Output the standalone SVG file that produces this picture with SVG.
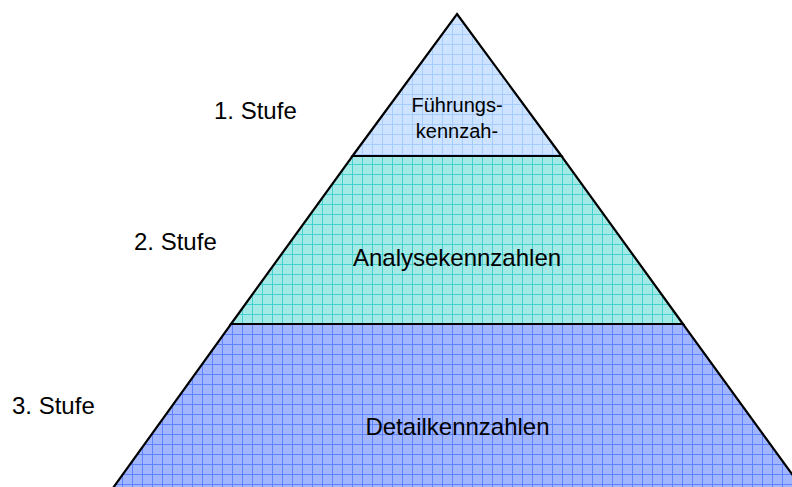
<svg xmlns="http://www.w3.org/2000/svg" width="792" height="487" viewBox="0 0 792 487">
  <defs>
    <pattern id="gridTop" patternUnits="userSpaceOnUse" width="10" height="10" x="2" y="4">
      <rect width="10" height="10" fill="#cde3ff"/>
      <path d="M0 0.5H10M0.5 0V10" stroke="#a6ccff" stroke-width="1"/>
    </pattern>
    <pattern id="gridMid" patternUnits="userSpaceOnUse" width="10" height="10" x="2" y="4">
      <rect width="10" height="10" fill="#a3e9e6"/>
      <path d="M0 0.5H10M0.5 0V10" stroke="#46d0cf" stroke-width="1"/>
    </pattern>
    <pattern id="gridBot" patternUnits="userSpaceOnUse" width="10" height="10" x="2" y="4">
      <rect width="10" height="10" fill="#a2b6ff"/>
      <path d="M0 0.5H10M0.5 0V10" stroke="#5f83ff" stroke-width="1"/>
    </pattern>
  </defs>
  <style>
    .layer { stroke: #000; stroke-width: 2.2; stroke-linejoin: miter; }
    .t { font-family: "Liberation Sans", Arial, sans-serif; fill: #000; }
    .big { font-size: 24px; }
    .small { font-size: 20px; }
  </style>
  <rect width="792" height="487" fill="#fff"/>

  <g id="layer3">
    <polygon class="layer" fill="url(#gridBot)" points="231,324 683,324 802,488 113,488"/>
    <text class="t big" x="457.5" y="435" text-anchor="middle">Detailkennzahlen</text>
  </g>
  <g id="layer2">
    <polygon class="layer" fill="url(#gridMid)" points="352.5,156 561.5,156 683,324 231,324"/>
    <text class="t big" x="457" y="266" text-anchor="middle">Analysekennzahlen</text>
  </g>
  <g id="layer1">
    <polygon class="layer" fill="url(#gridTop)" points="457,14 561.5,156 352.5,156"/>
    <text class="t small" x="457" y="112" text-anchor="middle">Führungs-</text>
    <text class="t small" x="457" y="138" text-anchor="middle">kennzah-</text>
  </g>

  <g id="labels">
    <text class="t big" x="214" y="119">1. Stufe</text>
    <text class="t big" x="134" y="250">2. Stufe</text>
    <text class="t big" x="12" y="414">3. Stufe</text>
  </g>
  <g id="connectors"/>
</svg>
